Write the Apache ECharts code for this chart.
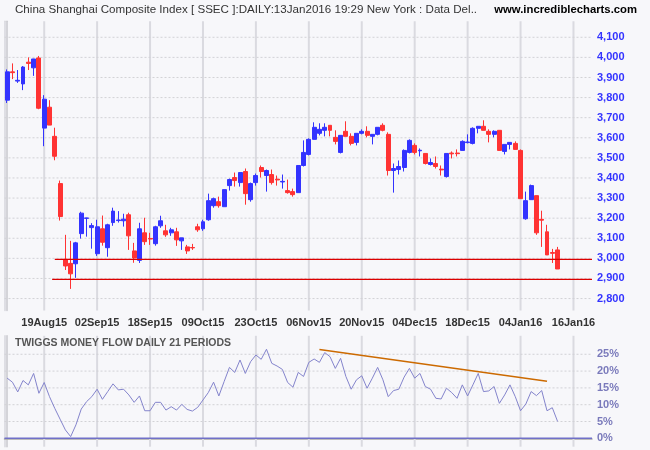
<!DOCTYPE html>
<html><head><meta charset="utf-8">
<script src="https://cdn.jsdelivr.net/npm/echarts@6/dist/echarts.min.js"></script>
<style>html,body{margin:0;padding:0;background:#f7f7fa}#c{width:650px;height:450px}</style>
</head><body><div id="c"></div>
<script>
const dates = ['10Aug15','11Aug15','12Aug15','13Aug15','14Aug15','17Aug15','18Aug15','19Aug15','20Aug15','21Aug15','24Aug15','25Aug15','26Aug15','27Aug15','28Aug15','31Aug15',
'01Sep15','02Sep15','07Sep15','08Sep15','09Sep15','10Sep15','11Sep15','14Sep15','15Sep15','16Sep15','17Sep15','18Sep15','21Sep15','22Sep15','23Sep15','24Sep15','25Sep15','28Sep15','29Sep15','30Sep15',
'08Oct15','09Oct15','12Oct15','13Oct15','14Oct15','15Oct15','16Oct15','19Oct15','20Oct15','21Oct15','22Oct15','23Oct15','26Oct15','27Oct15','28Oct15','29Oct15','30Oct15',
'02Nov15','03Nov15','04Nov15','05Nov15','06Nov15','09Nov15','10Nov15','11Nov15','12Nov15','13Nov15','16Nov15','17Nov15','18Nov15','19Nov15','20Nov15','23Nov15','24Nov15','25Nov15','26Nov15','27Nov15','30Nov15',
'01Dec15','02Dec15','03Dec15','04Dec15','07Dec15','08Dec15','09Dec15','10Dec15','11Dec15','14Dec15','15Dec15','16Dec15','17Dec15','18Dec15','21Dec15','22Dec15','23Dec15','24Dec15','25Dec15','28Dec15','29Dec15','30Dec15','31Dec15',
'04Jan16','05Jan16','06Jan16','07Jan16','08Jan16','11Jan16','12Jan16','13Jan16',
'14Jan16','15Jan16','16Jan16','17Jan16','18Jan16','19Jan16'];

const opens  = [3787,3928,3882,3868,3976,3948,3997,3648,3752,3607,3372,2995,2975,2973,3123,3199,3153,3023,3147,3053,3178,3188,3187,3217,3037,2990,3127,3099,3073,3162,3137,3127,3132,3087,3057,3054,
3157,3147,3192,3262,3282,3257,3362,3402,3377,3432,3292,3377,3452,3412,3417,3394,3380,3337,3332,3327,3462,3517,3592,3622,3637,3662,3602,3527,3632,3607,3577,3622,3632,3607,3617,3662,3617,3437,
3442,3452,3527,3562,3535,3522,3467,3472,3444,3407,3524,3524,3537,3576,3572,3647,3657,3632,3617,3637,3532,3567,3572,3537,3197,3292,3312,3194,3132,3029,3042];
const highs  = [3940,3970,3937,3957,4000,3993,4007,3812,3787,3650,3387,3117,3087,3082,3232,3202,3175,3192,3213,3172,3252,3235,3222,3227,3077,3177,3202,3127,3162,3212,3167,3152,3152,3102,3067,3072,
3172,3192,3322,3302,3307,3342,3397,3427,3427,3447,3377,3422,3462,3442,3442,3412,3417,3392,3347,3462,3587,3597,3677,3672,3672,3662,3637,3612,3682,3622,3622,3642,3657,3617,3652,3672,3627,3472,
3487,3542,3592,3572,3547,3522,3497,3507,3462,3522,3532,3542,3587,3617,3652,3657,3687,3642,3637,3637,3567,3577,3582,3542,3332,3367,3312,3237,3167,3047,3057];
const lows   = [3773,3892,3873,3837,3937,3908,3742,3558,3663,3488,3188,2942,2848,2903,3098,3108,3048,3012,3063,3008,3162,3178,3158,3042,2978,2977,3067,3067,3063,3152,3107,3112,3062,3042,3022,3042,
3132,3137,3187,3252,3252,3257,3337,3357,3357,3267,3282,3362,3402,3332,3367,3362,3347,3322,3307,3327,3457,3512,3592,3612,3607,3607,3567,3522,3607,3562,3562,3617,3602,3567,3612,3632,3412,3327,
3417,3432,3522,3517,3507,3467,3462,3447,3412,3402,3497,3507,3537,3572,3567,3622,3637,3577,3602,3537,3517,3542,3542,3297,3192,3292,3117,3057,3017,2977,2947];
const closes = [3928,3924,3886,3952,3970,3992,3747,3792,3663,3508,3208,2962,2923,3077,3225,3201,3163,3157,3080,3167,3235,3191,3195,3112,3002,3147,3083,3096,3157,3187,3117,3142,3092,3102,3037,3052,
3142,3182,3287,3297,3262,3342,3392,3387,3427,3322,3372,3412,3432,3437,3377,3390,3383,3327,3317,3462,3527,3592,3652,3642,3652,3637,3582,3612,3607,3572,3622,3632,3612,3617,3652,3637,3437,3447,
3457,3537,3587,3527,3538,3472,3477,3457,3440,3522,3520,3521,3582,3579,3647,3657,3637,3617,3632,3537,3567,3577,3542,3297,3287,3362,3127,3190,3017,3025,2947];

const tmf = [17.9,16.7,13.8,17.2,15.9,19.3,13.4,16.6,12.4,8.9,
5.7,2.5,0.5,4.0,8.7,10.9,12.4,14.6,11.6,13.9,
16.2,14.4,14.6,12.9,10.7,12.6,8.2,8.2,10.7,10.7,
8.4,9.4,8.4,10.1,8.6,8.1,9.2,11.4,13.6,16.7,
12.6,16.9,21.1,19.6,23.3,19.3,22.8,24.8,23.5,26.5,
22.3,21.5,20.5,16.6,15.2,19.6,18.4,22.6,23.6,22.6,
25.5,24.3,20.8,23.8,18.4,14.6,17.4,18.6,14.9,17.9,
21.1,17.4,12.4,14.2,14.6,18.2,20.8,17.9,19.3,15.4,
14.6,11.9,11.7,14.9,13.6,11.9,15.9,12.6,15.9,19.3,
13.9,14.1,15.4,10.4,12.9,15.9,12.4,8.2,10.2,13.9,
12.7,14.2,8.2,9.1,5.0];

const trendIdx = [59, 102];
const trendVal = [26.45, 16.97];
const supportA = [[9, 2995], [110.5, 2995]];
const supportB = [[8.5, 2895], [110.5, 2895]];
const priceTicks = [2800,2900,3000,3100,3200,3300,3400,3500,3600,3700,3800,3900,4000,4100];
const pctTicks = [5,10,15,20,25];
const firstLabel = 7, labelStep = 10;   // 19Aug15, 02Sep15, ... 16Jan16

const candleData = opens.map((o, i) => [o, closes[i], lows[i], highs[i]]);
const trendData = dates.map((d, i) => { const k = trendIdx.indexOf(i); return k >= 0 ? trendVal[k] : null; });
const isLabel = (i) => i >= firstLabel && (i - firstLabel) % labelStep === 0;
const labelIdx = dates.map((d, i) => i).filter(isLabel);

function fmtPrice(v) {
  const r = Math.round(v);
  if (Math.abs(v - r) > 1e-6 || r % 100 !== 0 || r < 2800 || r > 4100) return '';
  return String(r).replace(/\B(?=(\d{3})+(?!\d))/g, ',');
}
function fmtPct(v) {
  const r = Math.round(v);
  if (Math.abs(v - r) > 1e-6 || r % 5 !== 0 || r < 0 || r > 25) return '';
  return r + '%';
}

function gridSeries(xIdx, yIdx, yBottom, yTop, hTicks) {
  const out = [];
  labelIdx.forEach(i => out.push({ type: 'line', xAxisIndex: xIdx, yAxisIndex: yIdx, data: [[i, yBottom], [i, yTop]],
    symbol: 'none', silent: true, clip: false, z: 0, lineStyle: { color: '#dadae0', width: 2 } }));
  hTicks.forEach(v => out.push({ type: 'line', xAxisIndex: xIdx, yAxisIndex: yIdx, data: [[-0.5, v], [110.5, v]],
    symbol: 'none', silent: true, z: 0, lineStyle: { color: '#d2d2d6', width: 1, type: [2, 2] } }));
  return out;
}

const chart = echarts.init(document.getElementById('c'));
chart.setOption({
  animation: false,
  backgroundColor: '#f7f7fa',
  title: [
    { text: 'China Shanghai Composite Index [ SSEC ]:DAILY:13Jan2016 19:29 New York : Data Del..', left: 15, top: 4, padding: 0,
      textStyle: { fontFamily: 'Liberation Sans', fontSize: 11.6, fontWeight: 'normal', color: '#333' } },
    { text: 'www.incrediblecharts.com', right: 13, top: 4, padding: 0,
      textStyle: { fontFamily: 'Liberation Sans', fontSize: 11.3, fontWeight: 'bold', color: '#000' } },
    { text: 'TWIGGS MONEY FLOW DAILY 21 PERIODS', left: 15, top: 338, padding: 0,
      textStyle: { fontFamily: 'Liberation Sans', fontSize: 10.5, fontWeight: 'bold', color: '#555' } }
  ],
  grid: [
    { left: 4.5, width: 587.5, top: 21.2, height: 289.4, outerBoundsMode: 'none' },
    { left: 4.5, width: 587.5, top: 335.8, height: 110.9, outerBoundsMode: 'none' }
  ],
  xAxis: [
    { type: 'category', gridIndex: 0, data: dates, boundaryGap: true,
      axisLine: { show: false }, axisTick: { show: false }, splitLine: { show: false },
      axisLabel: { interval: (i) => isLabel(i), margin: 7,
        color: '#333', fontFamily: 'Liberation Sans', fontSize: 11, fontWeight: 'bold' } },
    { type: 'category', gridIndex: 1, data: dates, boundaryGap: true, position: 'top',
      axisLine: { show: true, lineStyle: { color: '#a8a8a8', width: 1.5 } },
      axisTick: { show: false }, axisLabel: { show: false }, splitLine: { show: false } },
    { type: 'value', gridIndex: 0, min: -0.5, max: 110.5, show: false },
    { type: 'value', gridIndex: 1, min: -0.5, max: 110.5, show: false }
  ],
  yAxis: [
    { type: 'value', gridIndex: 0, position: 'right', min: 2740, max: 4180, interval: 20,
      axisLine: { show: true, lineStyle: { color: '#c8c8ce', width: 1.5 } }, axisTick: { show: false }, splitLine: { show: false },
      axisLabel: { formatter: fmtPrice, margin: 5, color: '#3333ff', fontFamily: 'Liberation Sans', fontSize: 11, fontWeight: 'bold' } },
    { type: 'value', gridIndex: 0, position: 'left', min: 2740, max: 4180,
      axisLine: { show: true, lineStyle: { color: '#d6d6dc', width: 1.5 } }, axisTick: { show: false }, axisLabel: { show: false }, splitLine: { show: false } },
    { type: 'value', gridIndex: 1, position: 'right', min: -2.5, max: 30.5, interval: 0.5,
      axisLine: { show: true, lineStyle: { color: '#c8c8ce', width: 1.5 } }, axisTick: { show: false }, splitLine: { show: false },
      axisLabel: { formatter: fmtPct, margin: 5, color: '#7a7abb', fontFamily: 'Liberation Sans', fontSize: 11, fontWeight: 'bold' } },
    { type: 'value', gridIndex: 1, position: 'left', min: -2.5, max: 30.5,
      axisLine: { show: true, lineStyle: { color: '#d6d6dc', width: 1.5 } }, axisTick: { show: false }, axisLabel: { show: false }, splitLine: { show: false } }
  ],
  series: gridSeries(2, 0, 2740, 4180, priceTicks)
    .concat(gridSeries(3, 2, -2.5, 30.5, pctTicks))
    .concat([
    { type: 'line', xAxisIndex: 3, yAxisIndex: 2, data: [[-0.5, 0], [110.5, 0]], symbol: 'none', silent: true, z: 1,
      lineStyle: { color: '#7070c8', width: 1.5 } },
    { type: 'candlestick', xAxisIndex: 0, yAxisIndex: 0, data: candleData, barWidth: '84%', z: 3,
      itemStyle: { color: '#3333ff', color0: '#ff3333', borderColor: '#3333ff', borderColor0: '#ff3333', borderWidth: 1 } },
    { type: 'line', xAxisIndex: 2, yAxisIndex: 0, data: supportA, symbol: 'none', z: 4,
      lineStyle: { color: '#dd0000', width: 1.3 } },
    { type: 'line', xAxisIndex: 2, yAxisIndex: 0, data: supportB, symbol: 'none', z: 4,
      lineStyle: { color: '#dd0000', width: 1.3 } },
    { type: 'line', xAxisIndex: 1, yAxisIndex: 2, data: tmf, symbol: 'none', z: 3,
      lineStyle: { color: '#8484cc', width: 1 } },
    { type: 'line', xAxisIndex: 1, yAxisIndex: 2, data: trendData, connectNulls: true, symbol: 'none', z: 4,
      lineStyle: { color: '#cc6a00', width: 1.5 } }
  ])
});
</script></body></html>
